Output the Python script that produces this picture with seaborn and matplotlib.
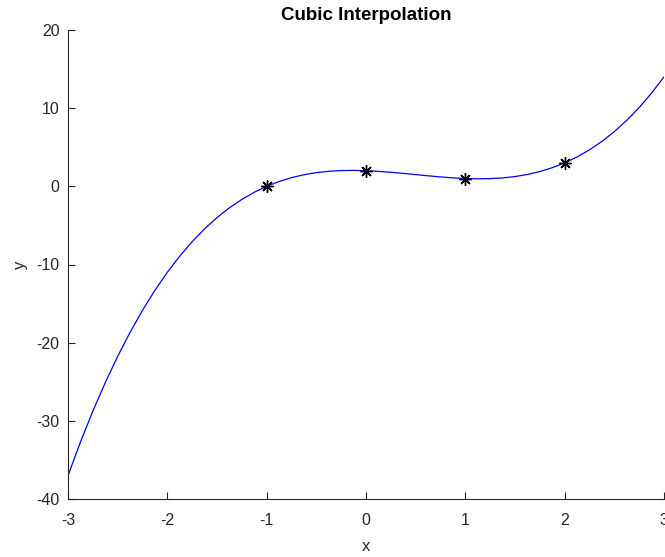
import matplotlib
matplotlib.use("Agg")
import matplotlib.pyplot as plt
import seaborn as sns
import pandas as pd

# data points
px = [-1, 0, 1, 2]
py = [0, 2, 1, 3]

# curve samples
cx = [-3, -2.875, -2.75, -2.625, -2.5, -2.375, -2.25, -2.125, -2, -1.875, -1.75, -1.625,
      -1.5, -1.375, -1.25, -1.125, -1, -0.875, -0.75, -0.625, -0.5, -0.375, -0.25, -0.125,
      0, 0.125, 0.25, 0.375, 0.5, 0.625, 0.75, 0.875, 1, 1.125, 1.25, 1.375, 1.5, 1.625,
      1.75, 1.875, 2, 2.125, 2.25, 2.375, 2.5, 2.625, 2.75, 2.875, 3]
cy = [-37, -32.725, -28.766, -25.111, -21.75, -18.670, -15.859, -13.307, -11, -8.928, -7.078, -5.440,
      -4.0, -2.748, -1.672, -0.760, 0, 0.619, 1.109, 1.482, 1.75, 1.924, 2.016, 2.037,
      2, 1.916, 1.797, 1.654, 1.5, 1.346, 1.203, 1.084, 1, 0.963, 0.984, 1.076, 1.25, 1.518,
      1.891, 2.381, 3, 3.760, 4.672, 5.748, 7.0, 8.440, 10.078, 11.928, 14]

xticks = [-3, -2, -1, 0, 1, 2, 3]
yticks = [-40, -30, -20, -10, 0, 10, 20]

sns.set_theme(style="ticks")
plt.rcParams['font.family'] = ['Liberation Sans', 'DejaVu Sans']
plt.rcParams['axes.unicode_minus'] = False

fig = plt.figure(figsize=(6.65, 5.57), dpi=100)
ax = fig.add_axes([68/665, 58/557, 596/665, 469/557])

curve = pd.DataFrame({"x": cx, "y": cy})
pts = pd.DataFrame({"x": px, "y": py})
sns.lineplot(data=curve, x="x", y="y", ax=ax, color="#0000ff", linewidth=0.9, sort=False)
ax.plot(pts["x"], pts["y"], linestyle="none", marker=(8, 2, 0), markersize=9,
        markeredgecolor="black", markeredgewidth=1.0, color="black")

ax.set_xlim(-3, 3)
ax.set_ylim(-40, 20)
ax.set_xticks(xticks)
ax.set_yticks(yticks)
ax.tick_params(direction="in", length=5, width=0.8, labelsize=11.5, colors="#262626")
ax.tick_params(axis="x", pad=10)
ax.tick_params(axis="y", pad=6)
for s in ["top", "right"]:
    ax.spines[s].set_visible(False)
for s in ["left", "bottom"]:
    ax.spines[s].set_color("#262626")
    ax.spines[s].set_linewidth(0.8)
ax.set_xlabel("x", fontsize=12, color="#262626", labelpad=8)
ax.set_ylabel("y", fontsize=12, color="#262626", labelpad=6)
ax.set_title("Cubic Interpolation", fontsize=13.5, fontweight="bold", color="black", pad=7)
for lab in ax.get_xticklabels() + ax.get_yticklabels():
    lab.set_clip_on(False)

fig.savefig("out.png", dpi=100)
